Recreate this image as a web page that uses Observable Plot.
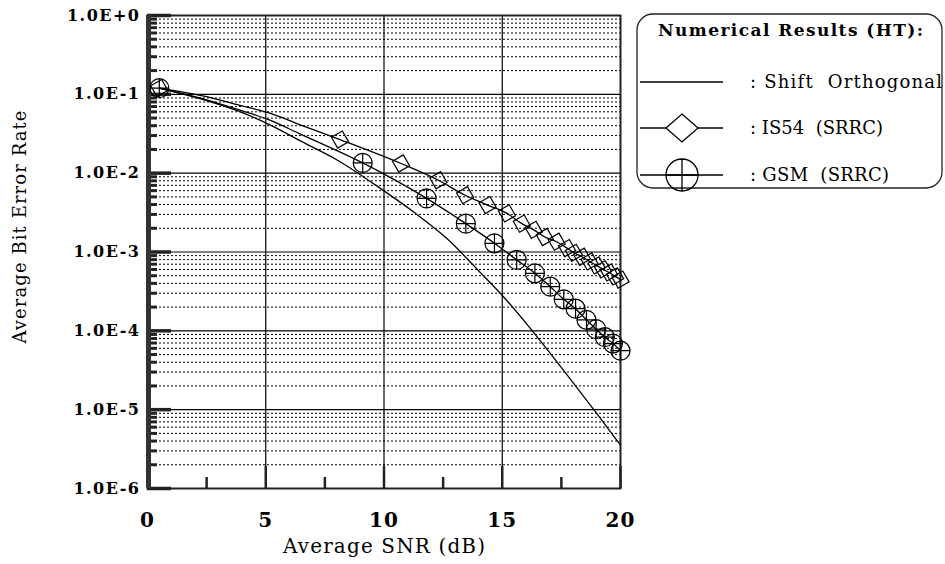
<!DOCTYPE html>
<html><head><meta charset="utf-8">
<script src="https://cdn.jsdelivr.net/npm/d3@7"></script>
<script src="https://cdn.jsdelivr.net/npm/@observablehq/plot@0.6"></script>
<style>
body{margin:0;background:#fff}
svg{display:block}
g[aria-label="y-axis tick label"] text{letter-spacing:1.5px}
g[aria-label="x-axis tick label"] text{letter-spacing:1px}
</style>
</head><body><div id="chart"></div>
<script>
// ---- data ----
const xTickValues = [0, 5, 10, 15, 20];
const xTickLabels = ["0", "5", "10", "15", "20"];
const yTickValues = [1, 1e-1, 1e-2, 1e-3, 1e-4, 1e-5, 1e-6];
const yTickLabels = ["1.0E+0", "1.0E-1", "1.0E-2", "1.0E-3", "1.0E-4", "1.0E-5", "1.0E-6"];

// Shift Orthogonal (line only)
const soSNR = [0.5, 2.5, 3.9, 5.2, 6.4, 8.0, 9.83, 11.24, 12.66, 14.07, 15.06, 16.33, 17.46, 18.87, 20];
const soBER = [0.120, 0.0832, 0.0603, 0.0407, 0.0263, 0.0148, 0.00646, 0.00324, 0.00148, 0.000550, 0.000269, 9.5e-5, 3.55e-5, 1.0e-5, 3.55e-6];

// IS54 (SRRC) markers
const is54SNR = [0.5, 8.14, 10.72, 12.3, 13.43, 14.38, 15.2, 15.83, 16.33, 16.8, 17.3, 17.74, 18.03, 18.37, 18.69, 18.99, 19.26, 19.52, 19.77, 20];
const is54BER = [0.120, 0.0267, 0.01327, 0.00813, 0.00525, 0.00394, 0.00309, 0.00229, 0.00191, 0.00155, 0.00135, 0.00112, 0.000977, 0.000871, 0.000759, 0.000676, 0.000603, 0.000550, 0.000490, 0.000447];
// IS54 curve points read between the first markers
const is54CurveSNR = [2.5, 3.9, 5.2, 6.4];
const is54CurveBER = [0.0933, 0.0724, 0.0575, 0.0417];

// GSM (SRRC) markers
const gsmSNR = [0.5, 9.1, 11.8, 13.46, 14.67, 15.61, 16.38, 17.03, 17.6, 18.1, 18.56, 18.97, 19.34, 19.68, 20];
const gsmBER = [0.120, 0.0135, 0.00479, 0.00229, 0.00129, 0.000794, 0.000537, 0.000363, 0.000251, 0.000191, 0.000138, 0.000105, 0.000083, 0.000069, 0.000056];
const gsmCurveSNR = [2.5, 3.9, 5.2, 6.4];
const gsmCurveBER = [0.0851, 0.0631, 0.0468, 0.0320];

const legendTitle = "Numerical Results (HT):";
const seriesNames = [": Shift  Orthogonal", ": IS54  (SRRC)", ": GSM  (SRRC)"];
const xTitle = "Average SNR (dB)";
const yTitle = "Average Bit Error Rate";

// ---- tables ----
const toRows = (xs, ys) => xs.map((x, i) => ({x, y: ys[i]}));
const so = toRows(soSNR, soBER);
const is54 = toRows(is54SNR, is54BER);
const gsm = toRows(gsmSNR, gsmBER);
const is54Line = is54.concat(toRows(is54CurveSNR, is54CurveBER)).sort((a, b) => a.x - b.x);
const gsmLine = gsm.concat(toRows(gsmCurveSNR, gsmCurveBER)).sort((a, b) => a.x - b.x);

const decades = yTickValues;
const innerDecades = yTickValues.slice(1, -1);
const minors = [];
for (let e = -6; e <= -1; e++) for (let k = 2; k <= 9; k++) minors.push(k * Math.pow(10, e));

const W = 945, H = 564, mL = 147, mR = 325, mT = 15, mB = 76;
const pW = W - mL - mR, pH = H - mT - mB;
const serif = "'DejaVu Serif', 'Liberation Serif', serif";

const circlePlus = {
  draw(ctx, size) {
    const r = Math.sqrt(size / Math.PI);
    ctx.moveTo(r, 0); ctx.arc(0, 0, r, 0, 2 * Math.PI);
    ctx.moveTo(-r, 0); ctx.lineTo(r, 0);
    ctx.moveTo(0, -r); ctx.lineTo(0, r);
  }
};

const chart = Plot.plot({
  width: W, height: H,
  marginLeft: mL, marginRight: mR, marginTop: mT, marginBottom: mB,
  style: {fontFamily: serif, fontSize: "16px", fontWeight: "bold", color: "#000", background: "#fff"},
  x: {domain: [0, 20]},
  y: {type: "log", domain: [1e-6, 1]},
  marks: [
    Plot.ruleY(minors, {stroke: "#000", strokeWidth: 1, strokeDasharray: "2,2"}),
    Plot.ruleY(innerDecades, {stroke: "#000", strokeWidth: 1.2}),
    Plot.ruleX([5, 10, 15], {stroke: "#000", strokeWidth: 1.2}),
    Plot.ruleY(minors, {stroke: "#222", strokeWidth: 3, insetRight: pW - 10}),
    Plot.ruleY(decades, {stroke: "#222", strokeWidth: 3.5, insetRight: pW - 24}),
    Plot.ruleX([2.5, 7.5, 12.5, 17.5], {stroke: "#222", strokeWidth: 2.5, insetTop: pH - 11}),
    Plot.ruleX([5, 10, 15, 20], {stroke: "#222", strokeWidth: 2.5, insetTop: pH - 22}),
    Plot.frame({stroke: "#222", strokeWidth: 2}),
    Plot.ruleX([0], {stroke: "#333", strokeWidth: 5, dx: 1}),
    Plot.line(so, {x: "x", y: "y", stroke: "#000", strokeWidth: 1.3, curve: "monotone-x"}),
    Plot.line(is54Line, {x: "x", y: "y", stroke: "#000", strokeWidth: 1.3, curve: "monotone-x"}),
    Plot.line(gsmLine, {x: "x", y: "y", stroke: "#000", strokeWidth: 1.3, curve: "monotone-x"}),
    Plot.dot(is54, {x: "x", y: "y", symbol: "diamond2", r: 8, rotate: 15, stroke: "#000", strokeWidth: 1.2, fill: "none"}),
    Plot.dot(gsm, {x: "x", y: "y", symbol: circlePlus, r: 9.5, stroke: "#000", strokeWidth: 1.2, fill: "none"}),
    Plot.axisY({ticks: yTickValues, tickFormat: d => yTickLabels[yTickValues.indexOf(d)], tickSize: 0, tickPadding: 7, label: null}),
    Plot.axisX({ticks: xTickValues, tickFormat: d => xTickLabels[xTickValues.indexOf(d)], tickSize: 0, tickPadding: 24, label: null, fontSize: 20})
  ]
});
document.getElementById("chart").appendChild(chart);

// ---- titles and legend ----
const svg = d3.select(chart);
svg.append("text").text(xTitle)
  .attr("x", 384).attr("y", 553).attr("text-anchor", "middle")
  .attr("font-family", serif).attr("font-size", 20).attr("font-weight", "normal")
  .attr("textLength", 202).attr("lengthAdjust", "spacing");
svg.append("text").text(yTitle)
  .attr("transform", "translate(26,227) rotate(-90)").attr("text-anchor", "middle")
  .attr("font-family", serif).attr("font-size", 18).attr("font-weight", "normal")
  .attr("textLength", 233).attr("lengthAdjust", "spacing");

const lg = svg.append("g").attr("text-anchor", "start");
lg.append("rect").attr("x", 637).attr("y", 14).attr("width", 305).attr("height", 174)
  .attr("rx", 16).attr("fill", "#fff").attr("stroke", "#222").attr("stroke-width", 1.3);
lg.append("text").text(legendTitle).attr("x", 658).attr("y", 36).attr("text-anchor", "start")
  .attr("font-family", serif).attr("font-size", 17).attr("font-weight", "bold")
  .attr("textLength", 265).attr("lengthAdjust", "spacing");
const rowsY = [82, 128, 175];
const textLens = [192, 133, 139];
rowsY.forEach((yy, i) => {
  lg.append("line").attr("x1", 640).attr("x2", 723).attr("y1", yy).attr("y2", yy)
    .attr("stroke", "#000").attr("stroke-width", 1.3);
  lg.append("text").text(seriesNames[i]).attr("x", 750).attr("y", yy + 6).attr("text-anchor", "start")
    .attr("font-family", serif).attr("font-size", 18).attr("font-weight", "normal")
    .style("white-space", "pre")
    .attr("textLength", textLens[i]).attr("lengthAdjust", "spacing");
});
lg.append("path").attr("transform", `translate(682,${rowsY[1]})`)
  .attr("d", "M0,-14L16,0L0,14L-16,0Z").attr("fill", "#fff").attr("stroke", "#000").attr("stroke-width", 1.3);
lg.append("path").attr("transform", `translate(682,${rowsY[2]})`)
  .attr("d", d3.symbol(circlePlus, Math.PI * 16 * 16)()).attr("fill", "none").attr("stroke", "#000").attr("stroke-width", 1.3);
</script>
</body></html>
